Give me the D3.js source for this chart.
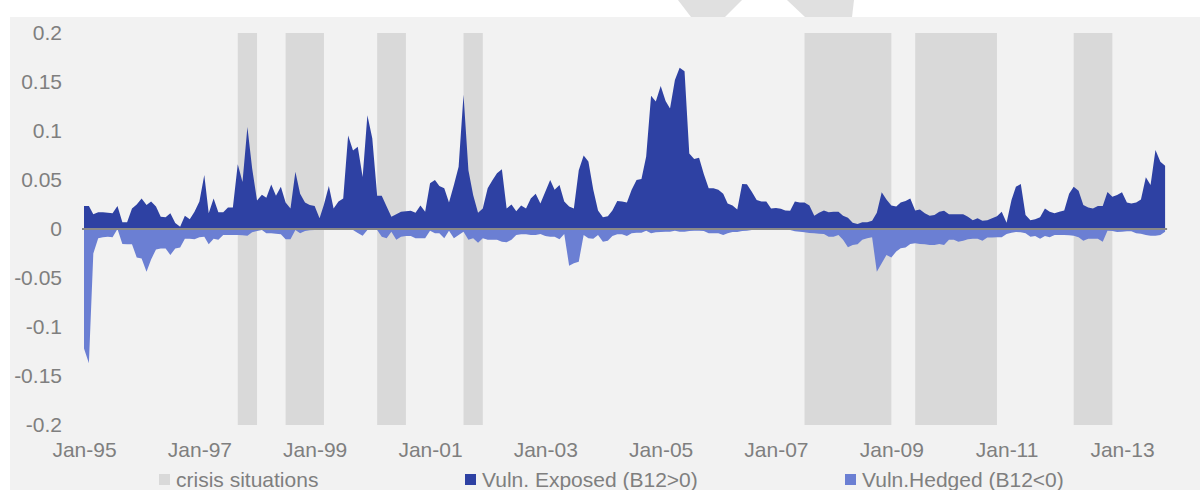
<!DOCTYPE html>
<html>
<head>
<meta charset="utf-8">
<script src="https://cdn.jsdelivr.net/npm/d3@7"></script>
<style>
  body { margin: 0; background: #ffffff; }
  text { font-family: "Liberation Sans", Arial, sans-serif; }
</style>
</head>
<body>
<div id="graph"></div>
<script>
// monthly values, Jan-95 .. Oct-13 (one row per year)
var exposed = [
  0.0235,0.0235,0.015,0.017,0.017,0.0167,0.016,0.0235,0.007,0.007,0.021,0.025,
  0.031,0.0245,0.028,0.023,0.0126,0.012,0.016,0.006,0.0024,0.0136,0.010,0.0177,
  0.028,0.055,0.016,0.031,0.017,0.017,0.022,0.022,0.066,0.048,0.104,0.062,
  0.029,0.035,0.032,0.0455,0.034,0.043,0.027,0.021,0.0585,0.036,0.027,0.0245,
  0.0235,0.011,0.025,0.044,0.021,0.028,0.031,0.0955,0.080,0.084,0.053,0.116,
  0.0925,0.034,0.034,0.023,0.0126,0.015,0.0177,0.018,0.0187,0.0167,0.024,0.0177,
  0.0466,0.050,0.044,0.0415,0.027,0.045,0.0636,0.137,0.060,0.0347,0.0167,0.021,
  0.0415,0.050,0.057,0.061,0.021,0.025,0.018,0.024,0.021,0.031,0.036,0.026,
  0.038,0.050,0.040,0.045,0.028,0.023,0.021,0.060,0.075,0.069,0.040,0.019,
  0.0119,0.013,0.019,0.0286,0.028,0.027,0.040,0.050,0.051,0.074,0.136,0.130,
  0.146,0.1306,0.123,0.152,0.1646,0.161,0.077,0.0714,0.0728,0.056,0.0415,0.0415,
  0.040,0.036,0.026,0.024,0.020,0.046,0.0456,0.038,0.0296,0.028,0.028,0.021,
  0.0214,0.0207,0.019,0.0187,0.028,0.027,0.027,0.024,0.0136,0.0167,0.019,0.017,
  0.0177,0.0177,0.0136,0.0116,0.0065,0.005,0.007,0.007,0.0085,0.0167,0.0374,0.030,
  0.024,0.023,0.027,0.0286,0.031,0.019,0.020,0.016,0.0136,0.0143,0.0177,0.0187,
  0.015,0.015,0.015,0.015,0.0126,0.009,0.0109,0.0085,0.009,0.0109,0.013,0.0177,
  0.0065,0.0296,0.043,0.046,0.0143,0.009,0.010,0.0119,0.021,0.0177,0.016,0.0177,
  0.019,0.036,0.043,0.039,0.0245,0.022,0.021,0.0235,0.0235,0.0378,0.033,0.0347,
  0.0374,0.027,0.026,0.027,0.030,0.0527,0.045,0.0806,0.0687,0.0646
];

var hedged = [
  -0.122,-0.137,-0.025,-0.0095,-0.0085,-0.0078,-0.0085,0,-0.0153,-0.0156,-0.0156,-0.029,
  -0.030,-0.0435,-0.031,-0.021,-0.020,-0.020,-0.0265,-0.020,-0.019,-0.010,-0.010,-0.0105,
  -0.0085,-0.0078,-0.0156,-0.010,-0.011,-0.006,-0.006,-0.006,-0.006,-0.0065,-0.0068,-0.0034,
  -0.002,-0.001,-0.0044,-0.0044,-0.0048,-0.0054,-0.0105,-0.0105,-0.001,-0.0044,-0.002,-0.0014,
  -0.001,-0.001,-0.0007,-0.001,-0.001,-0.001,-0.001,-0.001,-0.001,-0.004,-0.0068,-0.001,
  -0.001,-0.001,-0.0078,-0.0095,-0.0027,-0.011,-0.0078,-0.0071,-0.0071,-0.0095,-0.0095,-0.0095,
  -0.0017,-0.0044,-0.0044,-0.0095,-0.0017,-0.0095,-0.006,-0.0027,-0.011,-0.0095,-0.014,-0.0095,
  -0.011,-0.011,-0.011,-0.013,-0.0136,-0.011,-0.006,-0.0054,-0.0054,-0.006,-0.006,-0.0051,
  -0.0071,-0.0078,-0.0078,-0.0105,-0.0051,-0.0374,-0.035,-0.0333,-0.006,-0.0095,-0.010,-0.006,
  -0.013,-0.012,-0.0071,-0.0054,-0.0054,-0.0071,-0.0044,-0.0037,-0.0037,-0.0017,-0.0044,-0.0034,
  -0.003,-0.0027,-0.0027,-0.0017,-0.0027,-0.0027,-0.002,-0.0017,-0.0017,-0.002,-0.0044,-0.0044,
  -0.0044,-0.006,-0.0044,-0.003,-0.003,-0.002,-0.0017,-0.001,-0.001,-0.001,-0.001,-0.001,
  -0.001,-0.001,-0.001,-0.001,-0.0024,-0.0027,-0.0034,-0.004,-0.0044,-0.0048,-0.0051,-0.0078,
  -0.0078,-0.006,-0.011,-0.0187,-0.0163,-0.0156,-0.011,-0.0095,-0.0085,-0.0435,-0.035,-0.0265,
  -0.029,-0.023,-0.0197,-0.019,-0.0153,-0.0146,-0.0153,-0.0156,-0.0163,-0.0163,-0.0153,-0.0163,
  -0.011,-0.011,-0.013,-0.012,-0.0105,-0.010,-0.010,-0.012,-0.0088,-0.0088,-0.0085,-0.0085,
  -0.0051,-0.0037,-0.003,-0.0034,-0.0044,-0.0078,-0.0071,-0.010,-0.0071,-0.0085,-0.006,-0.006,
  -0.006,-0.0065,-0.0068,-0.0085,-0.012,-0.010,-0.010,-0.010,-0.013,-0.0017,-0.002,-0.003,
  -0.0027,-0.0024,-0.0024,-0.0044,-0.0048,-0.006,-0.0068,-0.0068,-0.006,-0.0027
];

// crisis periods (start / end month)
var crisisStart = ["1997-09", "1998-07", "2000-02", "2001-08", "2007-07", "2009-06", "2012-03"];
var crisisEnd   = ["1998-01", "1999-03", "2000-08", "2001-12", "2009-01", "2010-11", "2012-11"];

var xTickLabels = ["Jan-95","Jan-97","Jan-99","Jan-01","Jan-03","Jan-05","Jan-07","Jan-09","Jan-11","Jan-13"];
var yTicks = [0.2, 0.15, 0.1, 0.05, 0, -0.05, -0.1, -0.15, -0.2];
var yTickLabels = ["0.2","0.15","0.1","0.05","0","-0.05","-0.1","-0.15","-0.2"];

var legendNames = ["crisis situations", "Vuln. Exposed (B12>0)", "Vuln.Hedged (B12<0)"];

var width = 1200, height = 490;
var colExposed = "#2e41a3", colHedged = "#6b7fd3", colCrisis = "#d9d9d9";

var parseMonth = d3.timeParse("%Y-%m");
var parseLabel = d3.timeParse("%b-%y");
var months = d3.timeMonth.range(parseMonth("1995-01"), parseMonth("2013-11"));

var svg = d3.select("#graph").append("svg").attr("width", width).attr("height", height);

// faint watermark bits above the chart
svg.append("polygon").attr("points", "678,0 742,0 725,17 691,17").attr("fill", "#e0e0e0");
svg.append("polygon").attr("points", "787,0 854,0 852,17 805,17").attr("fill", "#e0e0e0");

svg.append("rect").attr("x", 10).attr("y", 17).attr("width", width - 10).attr("height", height - 17)
   .attr("fill", "#f2f2f2");

var x = d3.scaleTime().domain([parseMonth("1995-01"), parseMonth("2013-01")]).range([84, 1122]);
var y = d3.scaleLinear().domain([-0.2, 0.2]).range([425, 33]);

// crisis bands
svg.append("g").selectAll("rect").data(crisisStart).enter().append("rect")
   .attr("x", function(d) { return x(parseMonth(d)); })
   .attr("width", function(d, i) { return x(parseMonth(crisisEnd[i])) - x(parseMonth(d)); })
   .attr("y", y(0.2))
   .attr("height", y(-0.2) - y(0.2))
   .attr("fill", colCrisis);

var area = d3.area()
   .x(function(d, i) { return x(months[i]); })
   .y0(y(0))
   .y1(function(d) { return y(d); });

svg.append("path").datum(hedged).attr("d", area).attr("fill", colHedged);
svg.append("path").datum(exposed).attr("d", area).attr("fill", colExposed);

// zero line
svg.append("line")
   .attr("x1", x(months[0]) - 2).attr("x2", x(months[months.length - 1]) + 2)
   .attr("y1", y(0)).attr("y2", y(0))
   .attr("stroke", "#8a8a8a").attr("stroke-width", 2);

// y axis labels
var yAxis = d3.axisLeft(y).tickValues(yTicks).tickSize(0).tickPadding(0)
   .tickFormat(function(d, i) { return yTickLabels[i]; });
var gy = svg.append("g").attr("transform", "translate(62,0)").call(yAxis);
gy.select(".domain").remove();
gy.selectAll("text").attr("font-size", 21).attr("fill", "#7f7f7f")
   .attr("font-family", "Liberation Sans, Arial, sans-serif");

// x axis labels
var xAxis = d3.axisBottom(x).tickValues(xTickLabels.map(parseLabel)).tickSize(0).tickPadding(0)
   .tickFormat(function(d, i) { return xTickLabels[i]; });
var gx = svg.append("g").attr("transform", "translate(0,442)").call(xAxis);
gx.select(".domain").remove();
gx.selectAll("text").attr("font-size", 21).attr("fill", "#7f7f7f")
   .attr("font-family", "Liberation Sans, Arial, sans-serif");

// legend
var legendX = [159, 465, 845];
var legendCol = [colCrisis, colExposed, colHedged];
var legend = svg.append("g").selectAll("g").data(legendNames).enter().append("g")
   .attr("transform", function(d, i) { return "translate(" + legendX[i] + ",474)"; });
legend.append("rect").attr("width", 11).attr("height", 11)
   .attr("fill", function(d, i) { return legendCol[i]; });
legend.append("text").attr("x", 17).attr("y", 13).attr("font-size", 21).attr("fill", "#7f7f7f")
   .text(function(d) { return d; });
</script>
</body>
</html>
